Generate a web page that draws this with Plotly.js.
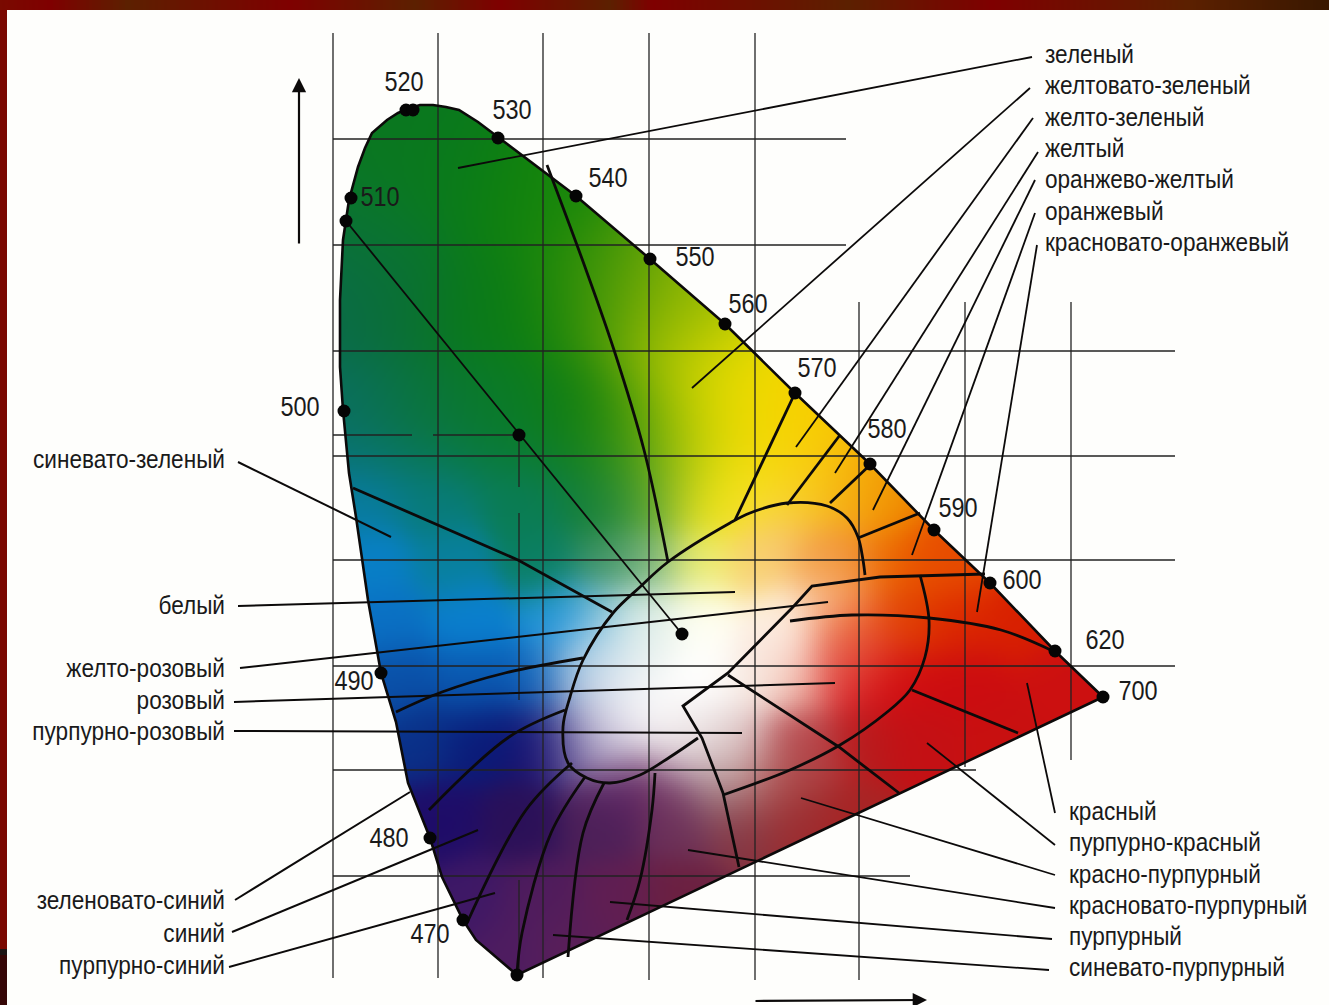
<!DOCTYPE html>
<html><head><meta charset="utf-8">
<script src="https://cdn.plot.ly/plotly-3.0.1.min.js"></script>
<style>html,body{margin:0;padding:0;background:#fefefc}#c{width:1329px;height:1005px}</style>
</head><body><div id="c"></div>
<script>
// Chart units: 1050 units = 1.0 of chromaticity, origin at the lower-left grid corner.
const locusX=[770,722,657,601,537,462,392,317,243,164,145,126,113,100,87,77,65,54,47,39,32,25,16,10,7,7,10,16,23,35,48,63,75,97,109,130,143,184,770];
const locusY=[283,329,397,450,516,587,656,721,784,843,858,870,873,875,875,872,867,860,854,847,832,813,780,740,680,613,570,507,463,380,307,258,197,142,103,60,40,5,283];

const dotX=[73,80,165,243,317,392,462,537,601,657,722,770,18,13,11,48,97,130,184,186,349];
const dotY=[870,870,842,784,721,656,587,516,450,397,329,283,782,759,569,307,142,60,5,545,346];

const waveLabels=['520','530','540','550','560','570','580','590','600','620','700','510','500','490','480','470'];
const waveX=[71,179,275,362,415,484,554,625,689,772,805,47,-33,21,56,97];
const waveY=[895,867,799,720,673,609,548,469,397,337,286,780,570,296,139,43];

const ellipseX=[532,530,525,514,494,454,417,397,335,307,280,250,237,230,235,254,277,307,337,365];
const ellipseY=[405,420,443,462,474,477,467,457,418,393,367,320,283,253,217,202,197,205,223,242];
const innerEdgeX=[652,547,479,460,395,350,369,390,406];
const innerEdgeY=[406,403,394,373,307,274,242,187,113];
const outerArcX=[390,457,507,553,577,592,596,587];
const outerArcY=[185,210,235,267,290,323,360,405];
const pinkRedX=[395,506,566], pinkRedY=[305,233,187];
const redPurpleX=[579,685], redPurpleY=[290,247];
const orangeRedX=[722,668,596,519,457], orangeRedY=[328,350,362,365,359];
const yellowGreenX=[402,462], yellowGreenY=[460,587];
const yellowX=[454,507], yellowY=[475,545];
const orangeYellowX=[497,537], orangeYellowY=[477,515];
const orangeX=[525,587], orangeY=[442,467];
const greenX=[214,252,281,311,335], greenY=[815,713,630,530,418];
const blueGreenX=[20,185,279], blueGreenY=[492,420,368];
const blueX=[250,172,109,63], blueY=[322,307,288,268];
const deepBlueX=[232,176,96], deepBlueY=[270,243,170];
const violetAX=[239,193,134], violetAY=[217,170,57];
const violetBX=[252,218,189,184], violetBY=[203,147,47,7];
const violetCX=[271,250,235], violetCY=[197,147,23];
const violetDX=[322,319,307,294], violetDY=[207,170,100,60];
const whiteRayX=[13,349], whiteRayY=[759,346];

const rightNames=['зеленый','желтовато-зеленый','желто-зеленый','желтый','оранжево-желтый','оранжевый','красновато-оранжевый'];
const rightNameY=[923,892,860,829,798,766,735];
const rightFromX=[699,697,700,705,702,702,704], rightFromY=[923,892,862,828,800,767,735];
const rightToX=[125,359,463,502,540,579,644], rightToY=[812,592,533,507,470,425,368];

const lowerNames=['красный','пурпурно-красный','красно-пурпурный','красновато-пурпурный','пурпурный','синевато-пурпурный'];
const lowerNameY=[166,135,103,72,41,10];
const lowerFromX=[722,722,722,722,719,716], lowerFromY=[167,135,105,72,41,10];
const lowerToX=[694,594,468,355,277,220], lowerToY=[297,237,182,130,78,45];

const leftNames=['синевато-зеленый','белый','желто-розовый','розовый','пурпурно-розовый','зеленовато-синий','синий','пурпурно-синий'];
const leftNameY=[518,372,309,277,246,77,44,12];
const leftFromX=[-95,-95,-93,-99,-99,-98,-101,-104], leftFromY=[518,374,312,278,249,80,48,13];
const leftToX=[58,402,495,502,409,77,145,162], leftToY=[443,388,378,297,247,188,150,87];

const gridVX=[0,105,210,316,422,526,632,738];
const gridVTop=[947,947,947,947,947,678,678,678];
const gridVBottom=[2,2,2,0,0,0,213,220];
const gridHY=[841,735,629,524,420,314,210,104];
const gridHEnd=[513,513,842,842,842,842,643,577];

const colourX=[77,47,117,187,227,267,307,347,387,
 12,67,147,227,287,347,
 17,87,167,247,307,357,407,457,
 27,97,187,267,317,367,412,467,517,557,
 42,117,207,277,317,367,427,497,547,597,627,
 52,137,227,267,307,367,457,517,567,627,687,
 62,137,207,252,287,367,427,467,517,567,637,727,
 87,147,207,242,277,347,407,467,527,587,667,
 107,187,267,347,407,467,517,
 137,207,287,347,
 177,237,447,497,
 307,267,307,267,357,497,447,507,527,
 287,337,387,447,387,427,467];
const colourY=[830,750,800,780,780,720,700,650,610,
 680,680,680,680,680,680,
 560,560,560,560,560,560,560,560,
 480,480,480,480,480,480,480,480,480,480,
 420,420,420,420,420,420,420,420,420,420,420,
 360,360,360,360,360,360,360,360,360,360,360,
 300,300,300,300,300,300,300,300,300,300,300,300,
 240,240,240,240,240,240,240,240,240,240,240,
 160,160,160,160,160,160,160,
 80,80,80,80,
 30,30,450,430,
 340,320,270,260,240,380,330,330,330,
 195,195,195,195,220,210,220];
const colourHex=['#0a7620','#0a7430','#0a7c18','#0c7e10','#1c8a08','#2f8e08','#74a806','#a8c400','#f0e000',
 '#0a6a4c','#0a7030','#0a7a18','#0e800c','#4e9a06','#9cbc02',
 '#0a6e60','#0a7438','#0a7a28','#0c7c10','#3c9408','#b8cc00','#f8e400','#f8c800',
 '#087a98','#087a70','#0a7c50','#0e7c30','#50a020','#e0dc10','#f8e800','#f8dc00','#f8bc08','#f09000',
 '#0880c8','#08809c','#0a7e60','#3a9060','#80b880','#f0f070','#f8d070','#f4a040','#ec6a00','#e85000','#e64a00',
 '#0a70c4','#0a80d0','#1c94dc','#70b8d8','#e0f0e8','#fffff4','#fff8ec','#f06a20','#e04000','#dc2800','#d82000',
 '#0a50a8','#0a58b0','#0a60b8','#b0c8e0','#f8f8f8','#ffffff','#f8f0e8','#f0b0a0','#d81820','#d00c10','#cc0c10','#cc1010',
 '#0a3088','#0a1a78','#141070','#5a4a90','#e0dce8','#f8f4f4','#e8d8d8','#b84850','#b81a1c','#c41014','#c81010',
 '#1e0c68','#2a1058','#4c2058','#6a3058','#843440','#9a2c30','#a82424',
 '#3e1866','#501c5c','#601e52','#6c2040',
 '#4e1c60','#5a1f58','#f8c880','#f09040',
 '#f0f4f0','#c0d8e8','#fbfbfb','#d8d4e4','#f0ecec','#f8c8a0','#fbe6dc','#e88070','#e03020',
 '#5a2060','#703060','#a08080','#a03838','#dcc8c8','#c09090','#b04040'];

const bandStopX=[-333,-283,-206,-45,82,167,277,319,515,659,854,989];
const bandStopHex=['#7a0a00','#7f0000','#5c2000','#7f0000','#5c2000','#7f0000','#5c2000','#7f0000','#5c2000','#7f0000','#5c2000','#3a1800'];

function rgb(h){return [parseInt(h.slice(1,3),16),parseInt(h.slice(3,5),16),parseInt(h.slice(5,7),16)];}
const colourRGB=colourHex.map(rgb), bandRGB=bandStopHex.map(rgb);

function inLocus(x,y){let c=false;for(let i=0,j=locusX.length-1;i<locusX.length;j=i++){
  if((locusY[i]>y)!==(locusY[j]>y)&&x<(locusX[j]-locusX[i])*(y-locusY[i])/(locusY[j]-locusY[i])+locusX[i])c=!c;}return c;}

const STEP=2;
const field=[];
for(let y=0;y<=880;y+=STEP){const row=[];
  // wider colour blending in the open green area than around the sharp white core
  const u=Math.min(1,Math.max(0,(y-430)/120)),sg=26+16*u*u*(3-2*u),SIG=2*sg*sg;
  for(let x=0;x<=776;x+=STEP){
    if(!inLocus(x,y)){row.push([255,255,255,0]);continue;}
    let s=0,r=0,g=0,b=0;
    for(let k=0;k<colourX.length;k++){const dx=x-colourX[k],dy=y-colourY[k];const w=Math.exp(-(dx*dx+dy*dy)/SIG)+1e-9;
      s+=w;r+=w*colourRGB[k][0];g+=w*colourRGB[k][1];b+=w*colourRGB[k][2];}
    row.push([r/s,g/s,b/s,1]);
  }
  field.push(row);}

const bandRow=[];
for(let x=-333;x<=996;x+=3){let i=0;while(i<bandStopX.length-2&&x>bandStopX[i+1])i++;
  const t=Math.min(1,Math.max(0,(x-bandStopX[i])/(bandStopX[i+1]-bandStopX[i])));
  const a=bandRGB[i],b=bandRGB[i+1];bandRow.push([a[0]+(b[0]-a[0])*t,a[1]+(b[1]-a[1])*t,a[2]+(b[2]-a[2])*t,1]);}

const DARK='#0c0a0a';
function ln(x,y,w,spline,c){return {type:'scatter',mode:'lines',x,y,hoverinfo:'skip',showlegend:false,
  line:{color:c||DARK,width:w,shape:spline?'spline':'linear',smoothing:1}};}

const traces=[
 {type:'image',z:field,x0:0,y0:0,dx:STEP,dy:STEP,colormodel:'rgba',zsmooth:'fast',hoverinfo:'skip'},
 {type:'image',z:[bandRow],x0:-333,y0:975,dx:3,dy:10,colormodel:'rgba',hoverinfo:'skip'}
];
gridVX.forEach((x,i)=>traces.push(ln([x,x],[gridVTop[i],gridVBottom[i]],1.3,false,'#222')));
gridHY.forEach((y,i)=>traces.push(ln([0,gridHEnd[i]],[y,y],1.3,false,'#222')));
traces.push(ln([0,79],[545,545],1.6,false,'#222'),ln([100,186],[545,545],1.6,false,'#222'));
traces.push(ln([186,186],[545,493],1.3,false,'#222'),ln([186,186],[467,280],1.3,false,'#222'),ln([186,186],[100,5],1.3,false,'#222'));
rightToX.forEach((x,i)=>traces.push(ln([rightFromX[i],x],[rightFromY[i],rightToY[i]],1.8)));
lowerToX.forEach((x,i)=>traces.push(ln([lowerFromX[i],x],[lowerFromY[i],lowerToY[i]],1.8)));
leftToX.forEach((x,i)=>traces.push(ln([leftFromX[i],x],[leftFromY[i],leftToY[i]],2)));
[[ellipseX,ellipseY,1],[outerArcX,outerArcY,1],[orangeRedX,orangeRedY,1],[greenX,greenY,1],[blueX,blueY,1],[deepBlueX,deepBlueY,1],
 [violetAX,violetAY,1],[violetBX,violetBY,1],[violetCX,violetCY,1],[violetDX,violetDY,1],[yellowX,yellowY,1],
 [innerEdgeX,innerEdgeY,0],[pinkRedX,pinkRedY,0],[redPurpleX,redPurpleY,0],[yellowGreenX,yellowGreenY,0],[orangeYellowX,orangeYellowY,0],[orangeX,orangeY,0],[blueGreenX,blueGreenY,0]
].forEach(b=>traces.push(ln(b[0],b[1],2.8,!!b[2])));
traces.push(ln(whiteRayX,whiteRayY,1.8));
traces.push(ln(locusX,locusY,2.6));
traces.push({type:'scatter',mode:'markers',x:dotX,y:dotY,hoverinfo:'skip',showlegend:false,marker:{color:'#050505',size:13}});
const FONT='"Liberation Sans",sans-serif';
function txt(text,x,y,pos,size){return {type:'scatter',mode:'text',x,y,text,textposition:pos,hoverinfo:'skip',showlegend:false,
  textfont:{family:FONT,size,color:'#1a1a1a'}};}
traces.push(txt(waveLabels,waveX,waveY,'middle center',23.5));
traces.push(txt(rightNames,rightNames.map(()=>712),rightNameY,'middle right',22.6));
traces.push(txt(lowerNames,lowerNames.map(()=>736),lowerNameY,'middle right',22.6));
traces.push(txt(leftNames,leftNames.map(()=>-108),leftNameY,'middle left',22.6));

const layout={width:1329,height:1005,margin:{l:0,r:0,t:0,b:0,pad:0},showlegend:false,
 paper_bgcolor:'#fefefc',plot_bgcolor:'#fefefc',
 xaxis:{range:[-333,996],visible:false,fixedrange:true},
 yaxis:{range:[-25,980],visible:false,fixedrange:true},
 shapes:[
  {type:'rect',xref:'x',yref:'y',x0:-333,x1:-326,y0:31,y1:970,fillcolor:'#7a0800',line:{width:0},layer:'above'},
  {type:'rect',xref:'x',yref:'y',x0:-333,x1:-326,y0:25,y1:31,fillcolor:'#1c1414',line:{width:0},layer:'above'},
  {type:'rect',xref:'x',yref:'y',x0:-333,x1:-326,y0:-25,y1:25,fillcolor:'#350606',line:{width:0},layer:'above'}
 ],
 annotations:[
  {x:-34,y:902,ax:-34,ay:735,axref:'x',ayref:'y',xref:'x',yref:'y',showarrow:true,arrowhead:2,arrowsize:1.3,arrowwidth:2.2,arrowcolor:DARK,text:''},
  {x:594,y:-20,ax:421,ay:-21,axref:'x',ayref:'y',xref:'x',yref:'y',showarrow:true,arrowhead:2,arrowsize:1.3,arrowwidth:2.2,arrowcolor:DARK,text:''}
 ]};
Plotly.newPlot('c',traces,layout,{staticPlot:true,displayModeBar:false}).then(()=>{
  // The reference lettering is a tall condensed face: stretch the real text upward about its baseline.
  document.querySelectorAll('#c .textpoint text').forEach(t=>{
    const y=parseFloat(t.getAttribute('y'))||0;
    t.setAttribute('transform','translate(0,'+y+') scale(1,1.15) translate(0,'+(-y)+')');
  });
});
</script></body></html>
